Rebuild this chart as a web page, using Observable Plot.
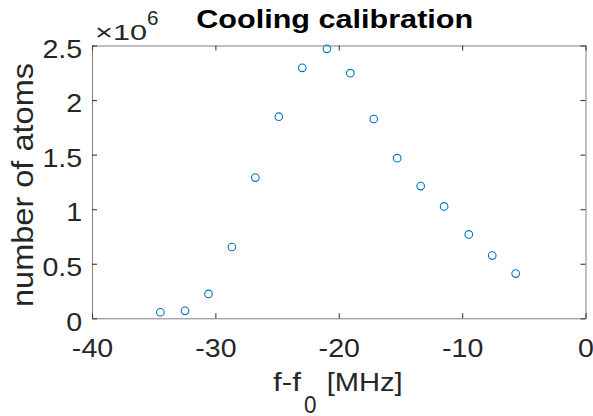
<!DOCTYPE html>
<html><head><meta charset="utf-8">
<script src="https://cdn.jsdelivr.net/npm/d3@7"></script>
<script src="https://cdn.jsdelivr.net/npm/@observablehq/plot@0.6"></script>
<style>html,body{margin:0;padding:0;background:#fff} svg{display:block}</style>
</head><body><div id="chart"></div>
<script>
// Data
const detuning = [-34.5, -32.5, -30.6, -28.7, -26.8, -24.9, -23.0, -21.0, -19.1, -17.2, -15.3, -13.4, -11.5, -9.5, -7.6, -5.7];
const atoms = [60000, 73000, 228000, 658000, 1294000, 1852000, 2300000, 2474000, 2251000, 1831000, 1472000, 1216000, 1030000, 773000, 579000, 414000];
const xTicks = [-40, -30, -20, -10, 0];
const xTickLabels = ["-40", "-30", "-20", "-10", "0"];
const yTicks = [0, 500000, 1000000, 1500000, 2000000, 2500000];
const yTickLabels = ["0", "0.5", "1", "1.5", "2", "2.5"];
const titleText = "Cooling calibration";
const yLabelText = "number of atoms";

const data = detuning.map((x, i) => ({x, y: atoms[i]}));
const font = '"Liberation Sans", Arial, Helvetica, sans-serif';
const ink = "#262626";
const axisGray = "#808080";
const tickColor = "#3a3a3a";
const W = 593, H = 416;
const mL = 92, mR = 7.5, mT = 45.5, mB = 97.7;
const plotW = W - mL - mR, plotH = H - mT - mB;
const tickLen = 5;

const chart = Plot.plot({
  width: W, height: H,
  marginLeft: mL, marginRight: mR, marginTop: mT, marginBottom: mB,
  style: {fontFamily: font, background: "#fff", overflow: "visible"},
  x: {domain: [-40, 0]},
  y: {domain: [0, 2500000]},
  marks: [
    Plot.frame({stroke: axisGray, strokeWidth: 1}),
    Plot.axisX({anchor: "bottom", ticks: xTicks, tickSize: 0, tickPadding: 19.7, label: null,
      tickFormat: d => xTickLabels[xTicks.indexOf(d)], fontSize: 26}),
    Plot.axisY({anchor: "left", ticks: yTicks, tickSize: 0, tickPadding: 10.3, dy: 3.4, label: null,
      tickFormat: d => yTickLabels[yTicks.indexOf(d)], fontSize: 26}),
    // inward ticks on all four sides
    Plot.tickX(xTicks, {x: d => d, insetTop: plotH - tickLen, stroke: tickColor, strokeWidth: 1.1}),
    Plot.tickX(xTicks, {x: d => d, insetBottom: plotH - tickLen, stroke: tickColor, strokeWidth: 1.1}),
    Plot.tickY(yTicks, {y: d => d, insetRight: plotW - tickLen, stroke: tickColor, strokeWidth: 1.1}),
    Plot.tickY(yTicks, {y: d => d, insetLeft: plotW - tickLen, stroke: tickColor, strokeWidth: 1.1}),
    Plot.dot(data, {x: "x", y: "y", r: 3.8, stroke: "#0072BD", strokeWidth: 1.1, fill: "none"})
  ]
});
document.getElementById("chart").appendChild(chart);
const svg = d3.select(chart);
svg.selectAll('g[aria-label$="tick label"]').attr("fill", ink).attr("font-size", 26);
svg.selectAll('g[aria-label$="tick label"] text').each(function () {
  const len = this.getComputedTextLength();
  if (len > 0) {
    this.setAttribute("textLength", (len * 1.1).toFixed(1));
    this.setAttribute("lengthAdjust", "spacingAndGlyphs");
  }
});

function addText(str, x, y, opts = {}) {
  const t = svg.append("text")
    .attr("x", x).attr("y", y)
    .attr("fill", opts.color || ink)
    .attr("font-family", font)
    .attr("font-size", opts.size || 26)
    .attr("font-weight", opts.weight || "normal")
    .attr("text-anchor", opts.anchor || "start")
    .text(str);
  if (opts.rotate) t.attr("transform", `rotate(${opts.rotate},${x},${y})`);
  if (opts.length) t.attr("textLength", opts.length).attr("lengthAdjust", "spacingAndGlyphs");
  return t;
}
// title
addText(titleText, 334.7, 28, {size: 26, weight: "bold", anchor: "middle", length: 277, color: "#000"});
// exponent
addText("\u00d710", 95, 39.5, {size: 22, length: 52});
addText("6", 147, 25, {size: 21, length: 11.5});
// y label
addText(yLabelText, 33, 185, {size: 29, anchor: "middle", rotate: -90, length: 244});
// x label with subscript
addText("f-f", 273, 390.5, {size: 26, length: 28});
addText("0", 304, 412.5, {size: 23, length: 12.5});
addText("[MHz]", 326.7, 390.5, {size: 26, length: 76});
</script>
</body></html>
